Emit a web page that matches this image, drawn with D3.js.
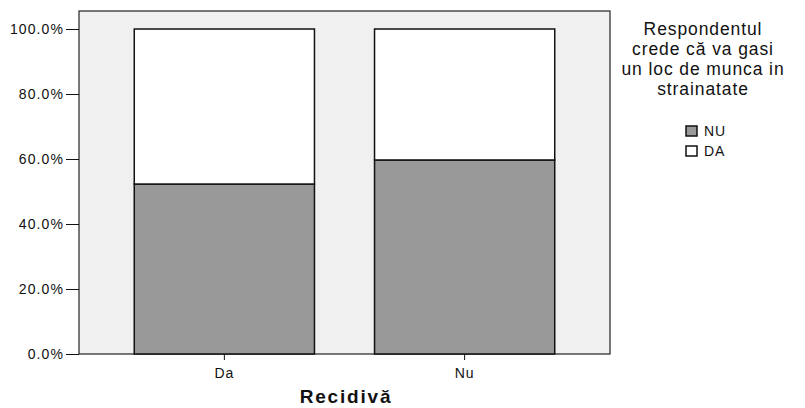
<!DOCTYPE html>
<html><head><meta charset="utf-8">
<script src="https://cdn.jsdelivr.net/npm/d3@7"></script>
<style>body{margin:0;background:#fff}svg{display:block}text{font-family:"Liberation Sans",Arial,sans-serif}</style>
</head><body>
<svg id="c" width="805" height="408"></svg>
<script>
const categories = ["Da", "Nu"];
const nuValues = [52.3, 59.7];
const daValues = [47.7, 40.3];
const yTicks = [0, 20, 40, 60, 80, 100];
const seriesNames = ["NU", "DA"];
const seriesColors = ["#999999", "#ffffff"];
const legendTitle = ["Respondentul", "crede că va gasi", "un loc de munca in", "strainatate"];
const xTitle = "Recidivă";

const svg = d3.select("#c");
const L = 79, R = 610, T = 11, B = 354;
const x = d3.scaleBand().domain(categories).range([L, R]).paddingInner(0.25).paddingOuter(0.23);
const y = d3.scaleLinear().domain([0, 100]).range([B, 29]);

svg.append("rect").attr("x", L).attr("y", T).attr("width", R - L).attr("height", B - T)
  .attr("fill", "#f0f0f0").attr("stroke", "#222").attr("stroke-width", 1.2);

const data = categories.map((c, i) => ({c, nu: nuValues[i], da: daValues[i]}));
const stack = d3.stack().keys(["nu", "da"])(data);
stack.forEach((s, k) => {
  svg.append("g").selectAll("rect").data(s).join("rect")
    .attr("x", d => x(d.data.c)).attr("width", x.bandwidth())
    .attr("y", d => y(d[1])).attr("height", d => y(d[0]) - y(d[1]))
    .attr("fill", seriesColors[k]).attr("stroke", "#111").attr("stroke-width", 1.5);
});

const ya = svg.append("g").attr("transform", `translate(${L},0)`)
  .call(d3.axisLeft(y).tickValues(yTicks).tickSize(13).tickFormat(d => d.toFixed(1) + "%"));
ya.select(".domain").remove();
ya.selectAll("line").attr("stroke", "#111");
ya.selectAll("text").attr("font-size", 14).attr("fill", "#111").attr("letter-spacing", "1.1px").attr("x", -15);

const xa = svg.append("g").attr("transform", `translate(0,${B})`)
  .call(d3.axisBottom(x).tickSize(6).tickSizeOuter(0));
xa.select(".domain").remove();
xa.selectAll("line").attr("stroke", "#111");
xa.selectAll("text").attr("font-size", 14).attr("fill", "#111").attr("letter-spacing", "1px").attr("dy", "1.1em");

svg.append("text").attr("x", 346).attr("y", 403).attr("text-anchor", "middle")
  .attr("font-size", 19).attr("font-weight", "bold").attr("letter-spacing", "1.8px").attr("fill", "#111").text(xTitle);

const lx = 703;
legendTitle.forEach((t, i) => {
  svg.append("text").attr("x", lx).attr("y", 35 + i * 20).attr("text-anchor", "middle")
    .attr("font-size", 17.5).attr("fill", "#111").attr("letter-spacing", "0.9px").text(t);
});
seriesNames.forEach((n, i) => {
  const yy = 126 + i * 20;
  svg.append("rect").attr("x", 686).attr("y", yy).attr("width", 11).attr("height", 10)
    .attr("fill", seriesColors[i]).attr("stroke", "#111").attr("stroke-width", 1.5);
  svg.append("text").attr("x", 704).attr("y", yy + 10).attr("font-size", 14).attr("fill", "#111")
    .attr("letter-spacing", "0.8px").text(n);
});
</script>
</body></html>
